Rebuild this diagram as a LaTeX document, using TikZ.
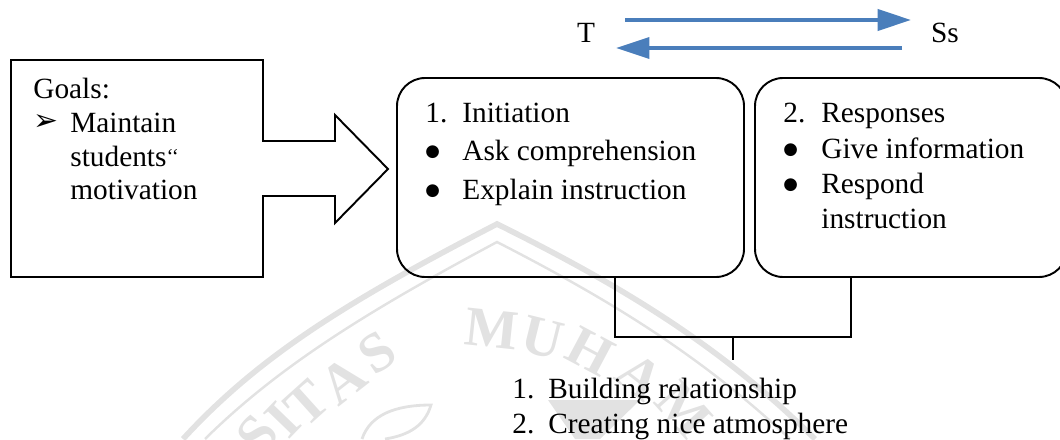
\documentclass[tikz,border=0pt]{standalone}
\usepackage{fontspec}
\setmainfont{Liberation Serif}
\newfontfamily\symfont{DejaVu Sans}
\usetikzlibrary{arrows.meta}
\definecolor{arrowblue}{HTML}{4A7EBB}
\definecolor{markgray}{HTML}{E2E2E2}
\newcommand{\blt}{\raisebox{2.2pt}{\symfont\fontsize{9.5}{10}\selectfont ●}}
\tikzset{
 boxline/.style={draw=black,line width=1.1pt},
 roundbox/.style={boxline,rounded corners=16pt,inner sep=0pt,minimum height=199*0.02cm},
 label/.style={anchor=base west,inner sep=0pt,font=\fontsize{16.7}{19}\selectfont},
 markletter/.style={anchor=center,inner sep=0pt,text=markgray,font=\bfseries\fontsize{32}{36}\selectfont},
 flow/.style={arrowblue,line width=2pt,-{Triangle[length=19pt,width=12pt]}},
}
\begin{document}
\begin{tikzpicture}[x=0.02cm,y=-0.02cm]
 \useasboundingbox (0,0) rectangle (1060,439);
 % watermark
 \draw[markgray,line width=3.2pt](183,439) .. controls (260,355) and (350,300) .. (497,224) .. controls (620,285) and (720,345) .. (815,439);
 \draw[markgray,line width=1.4pt](205,439) .. controls (280,365) and (370,310) .. (497,242) .. controls (610,300) and (700,355) .. (790,439);
 \node[markletter,rotate=-6] (m2) at (492,329) {M};
 \node[markletter,rotate=-14] (m3) at (543,338) {U};
 \node[markletter,rotate=-28] (m4) at (590,352) {H};
 \node[markletter,rotate=-38] (m5) at (640,376) {A};
 \node[markletter,rotate=-48] (m6) at (684,410) {M};
 \node[markletter,rotate=34] (s1) at (377,353) {S};
 \node[markletter,rotate=38] (s2) at (343,380) {A};
 \node[markletter,rotate=42] (s3) at (307,403) {T};
 \node[markletter,rotate=46] (s4) at (283,420) {I};
 \node[markletter,rotate=50] (s5) at (257,435) {S};
 \draw[markgray,line width=1.6pt](362,439) .. controls (370,415) and (395,405) .. (431,405) .. controls (425,425) and (410,435) .. (385,439);
 \fill[markgray](548,400)--(640,400)--(600,439)--(575,439)--cycle;
 % goals box with its block arrow
 \draw[boxline](263,141)--(263,60)--(11,60)--(11,277)--(263,277)--(263,196)
  --(335,196)--(335,223)--(388,169)--(335,115)--(335,141)--cycle;
 \node[label] (goals) at (33,98) {Goals:};
 \node[label] (tip) at (33,130) {\symfont\fontsize{17}{18}\selectfont ➢};
 \node[label] (goal1) at (70,132) {Maintain};
 \node[label] (goal2) at (70,166) {students\raisebox{1.5pt}{\fontsize{12}{12}\selectfont `{}`}};
 \node[label] (goal3) at (70,199) {motivation};
 % the two rounded boxes
 \node[roundbox,minimum width=347*0.02cm] (init) at (570.5,177.5) {};
 \node[roundbox,minimum width=312*0.02cm] (resp) at (911,177.5) {};
 \node[label] (i0) at (425,122) {1.};
 \node[label] (i1) at (462,122) {Initiation};
 \node[label] (i2) at (425,160) {\blt};
 \node[label] (i3) at (462,160) {Ask comprehension};
 \node[label] (i4) at (425,199) {\blt};
 \node[label] (i5) at (462,199) {Explain instruction};
 \node[label] (r0) at (783,122) {2.};
 \node[label] (r1) at (821,122) {Responses};
 \node[label] (r2) at (783,158) {\blt};
 \node[label] (r3) at (821,158) {Give information};
 \node[label] (r4) at (783,193) {\blt};
 \node[label] (r5) at (821,193) {Respond};
 \node[label] (r6) at (821,228) {instruction};
 % bracket below the boxes
 \coordinate (left) at (615,337);
 \coordinate (right) at (851,337);
 \coordinate (stem) at (733,337);
 \coordinate (stemend) at (733,360);
 \draw[black,line width=0.8pt](init.south -| left)--(left)--(right)--(resp.south -| right);
 \draw[black,line width=0.8pt](stem)--(stemend);
 \node[label] (b0) at (512,398) {1.};
 \node[label] (b1) at (548,398) {Building relationship};
 \node[label] (b2) at (512,433) {2.};
 \node[label] (b3) at (548,433) {Creating nice atmosphere};
 % teacher and students
 \node[label,anchor=base] (t) at (586,43) {T};
 \node[label,anchor=base] (ss) at (945,43) {Ss};
 \coordinate (ta) at (625,20);
 \coordinate (tb) at (911,20);
 \coordinate (sa) at (902,48);
 \coordinate (sb) at (616,48);
 \draw[flow](ta)--(tb);
 \draw[flow](sa)--(sb);
\end{tikzpicture}
\end{document}
